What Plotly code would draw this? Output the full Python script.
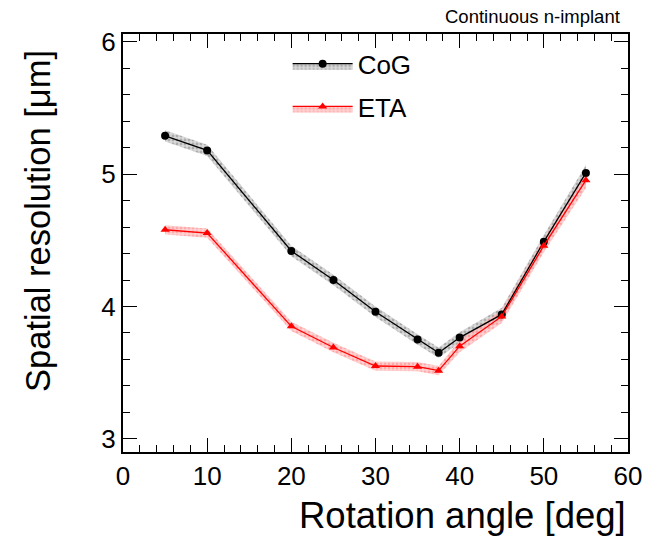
"""
Resolución espacial frente a ángulo de rotación (CoG vs ETA).
"""

import plotly.graph_objects as go

angles = [5, 10, 20, 25, 30, 35, 37.5, 40, 45, 50, 55]
cog_res = [5.29, 5.18, 4.42, 4.20, 3.96, 3.75, 3.65, 3.765, 3.94, 4.49, 5.01]
cog_err = [0.042, 0.042, 0.04, 0.04, 0.04, 0.04, 0.04, 0.04, 0.05, 0.05, 0.06]
eta_res = [4.58, 4.555, 3.85, 3.69, 3.55, 3.545, 3.515, 3.70, 3.925, 4.46, 4.955]
eta_err = [0.035, 0.035, 0.035, 0.035, 0.035, 0.035, 0.035, 0.045, 0.05, 0.05, 0.06]

FONT = "Liberation Sans, Arial, sans-serif"

# nombre, valores, errores, color de línea, (fondo, punto) de la banda, marcador
series = [
    ("CoG", cog_res, cog_err, "black", ("rgba(210,210,210,0.8)", "rgba(100,100,100,0.8)"), "circle"),
    ("ETA", eta_res, eta_err, "red", ("rgba(255,195,195,0.75)", "rgba(255,110,110,0.8)"), "triangle-up"),
]

fig = go.Figure()

# primero las bandas de error
for name, res, err, color, (band_bg, band_fg), symbol in series:
    upper = [v + e for v, e in zip(res, err)]
    lower = [v - e for v, e in zip(res, err)]
    fig.add_trace(go.Scatter(
        x=angles + angles[::-1],
        y=upper + lower[::-1],
        fill="toself",
        fillcolor=band_bg,
        fillpattern=dict(shape=".", bgcolor=band_bg, fgcolor=band_fg, size=4, solidity=0.4),
        mode="none",
        showlegend=False,
        hoverinfo="skip",
    ))

# luego las curvas y la entrada de leyenda
for name, res, err, color, (band_bg, band_fg), symbol in series:
    fig.add_trace(go.Scatter(
        x=angles,
        y=res,
        mode="lines+markers",
        line=dict(color=color, width=1.3),
        marker=dict(symbol=symbol, size=8, color=color),
        showlegend=False,
    ))
    fig.add_trace(go.Scatter(
        x=[None],
        y=[None],
        name=name,
        legendgroup=name,
        mode="lines+markers",
        fill="toself",
        fillcolor=band_bg,
        fillpattern=dict(shape=".", bgcolor=band_bg, fgcolor=band_fg, size=4, solidity=0.4),
        line=dict(color=color, width=1.3),
        marker=dict(symbol=symbol, size=8, color=color),
    ))

axis_common = dict(
    showline=True,
    linecolor="black",
    linewidth=2,
    mirror="ticks",
    ticks="inside",
    tickcolor="black",
    tickwidth=1,
    showgrid=False,
    zeroline=False,
    tickfont=dict(family=FONT, size=26, color="black"),
)

fig.update_xaxes(
    range=[0, 60],
    dtick=10,
    ticklen=14,
    minor=dict(dtick=2, ticks="inside", ticklen=7, tickcolor="black", showgrid=False),
    **axis_common,
)
fig.update_yaxes(
    range=[2.9, 6.06],
    dtick=1,
    ticklen=14,
    minor=dict(dtick=0.2, ticks="inside", ticklen=7, tickcolor="black", showgrid=False),
    **axis_common,
)

fig.add_annotation(
    text="Spatial resolution [μm]",
    xref="paper", yref="paper",
    x=-0.168, y=0.553,
    xanchor="center", yanchor="middle",
    textangle=-90,
    showarrow=False,
    font=dict(family=FONT, size=34.5, color="black"),
)
fig.add_annotation(
    text="Rotation angle [deg]",
    xref="paper", yref="paper",
    x=1.0, y=-0.151,
    xanchor="right", yanchor="middle",
    showarrow=False,
    font=dict(family=FONT, size=36.5, color="black"),
)
fig.add_annotation(
    text="Continuous n-implant",
    xref="paper", yref="paper",
    x=0.988, y=1.041,
    xanchor="right", yanchor="middle",
    showarrow=False,
    font=dict(family=FONT, size=18.5, color="black"),
)

# la página añade 8 px de margen al body, así que el lienzo se desplaza
fig.update_layout(
    width=650,
    height=529,
    plot_bgcolor="white",
    paper_bgcolor="white",
    margin=dict(l=115, r=30, t=26, b=85),
    legend=dict(
        x=0.326, y=0.985,
        xanchor="left", yanchor="top",
        font=dict(family=FONT, size=26, color="black"),
        itemwidth=60,
        tracegroupgap=6,
        bgcolor="rgba(0,0,0,0)",
    ),
)

fig.write_html("out.html")
